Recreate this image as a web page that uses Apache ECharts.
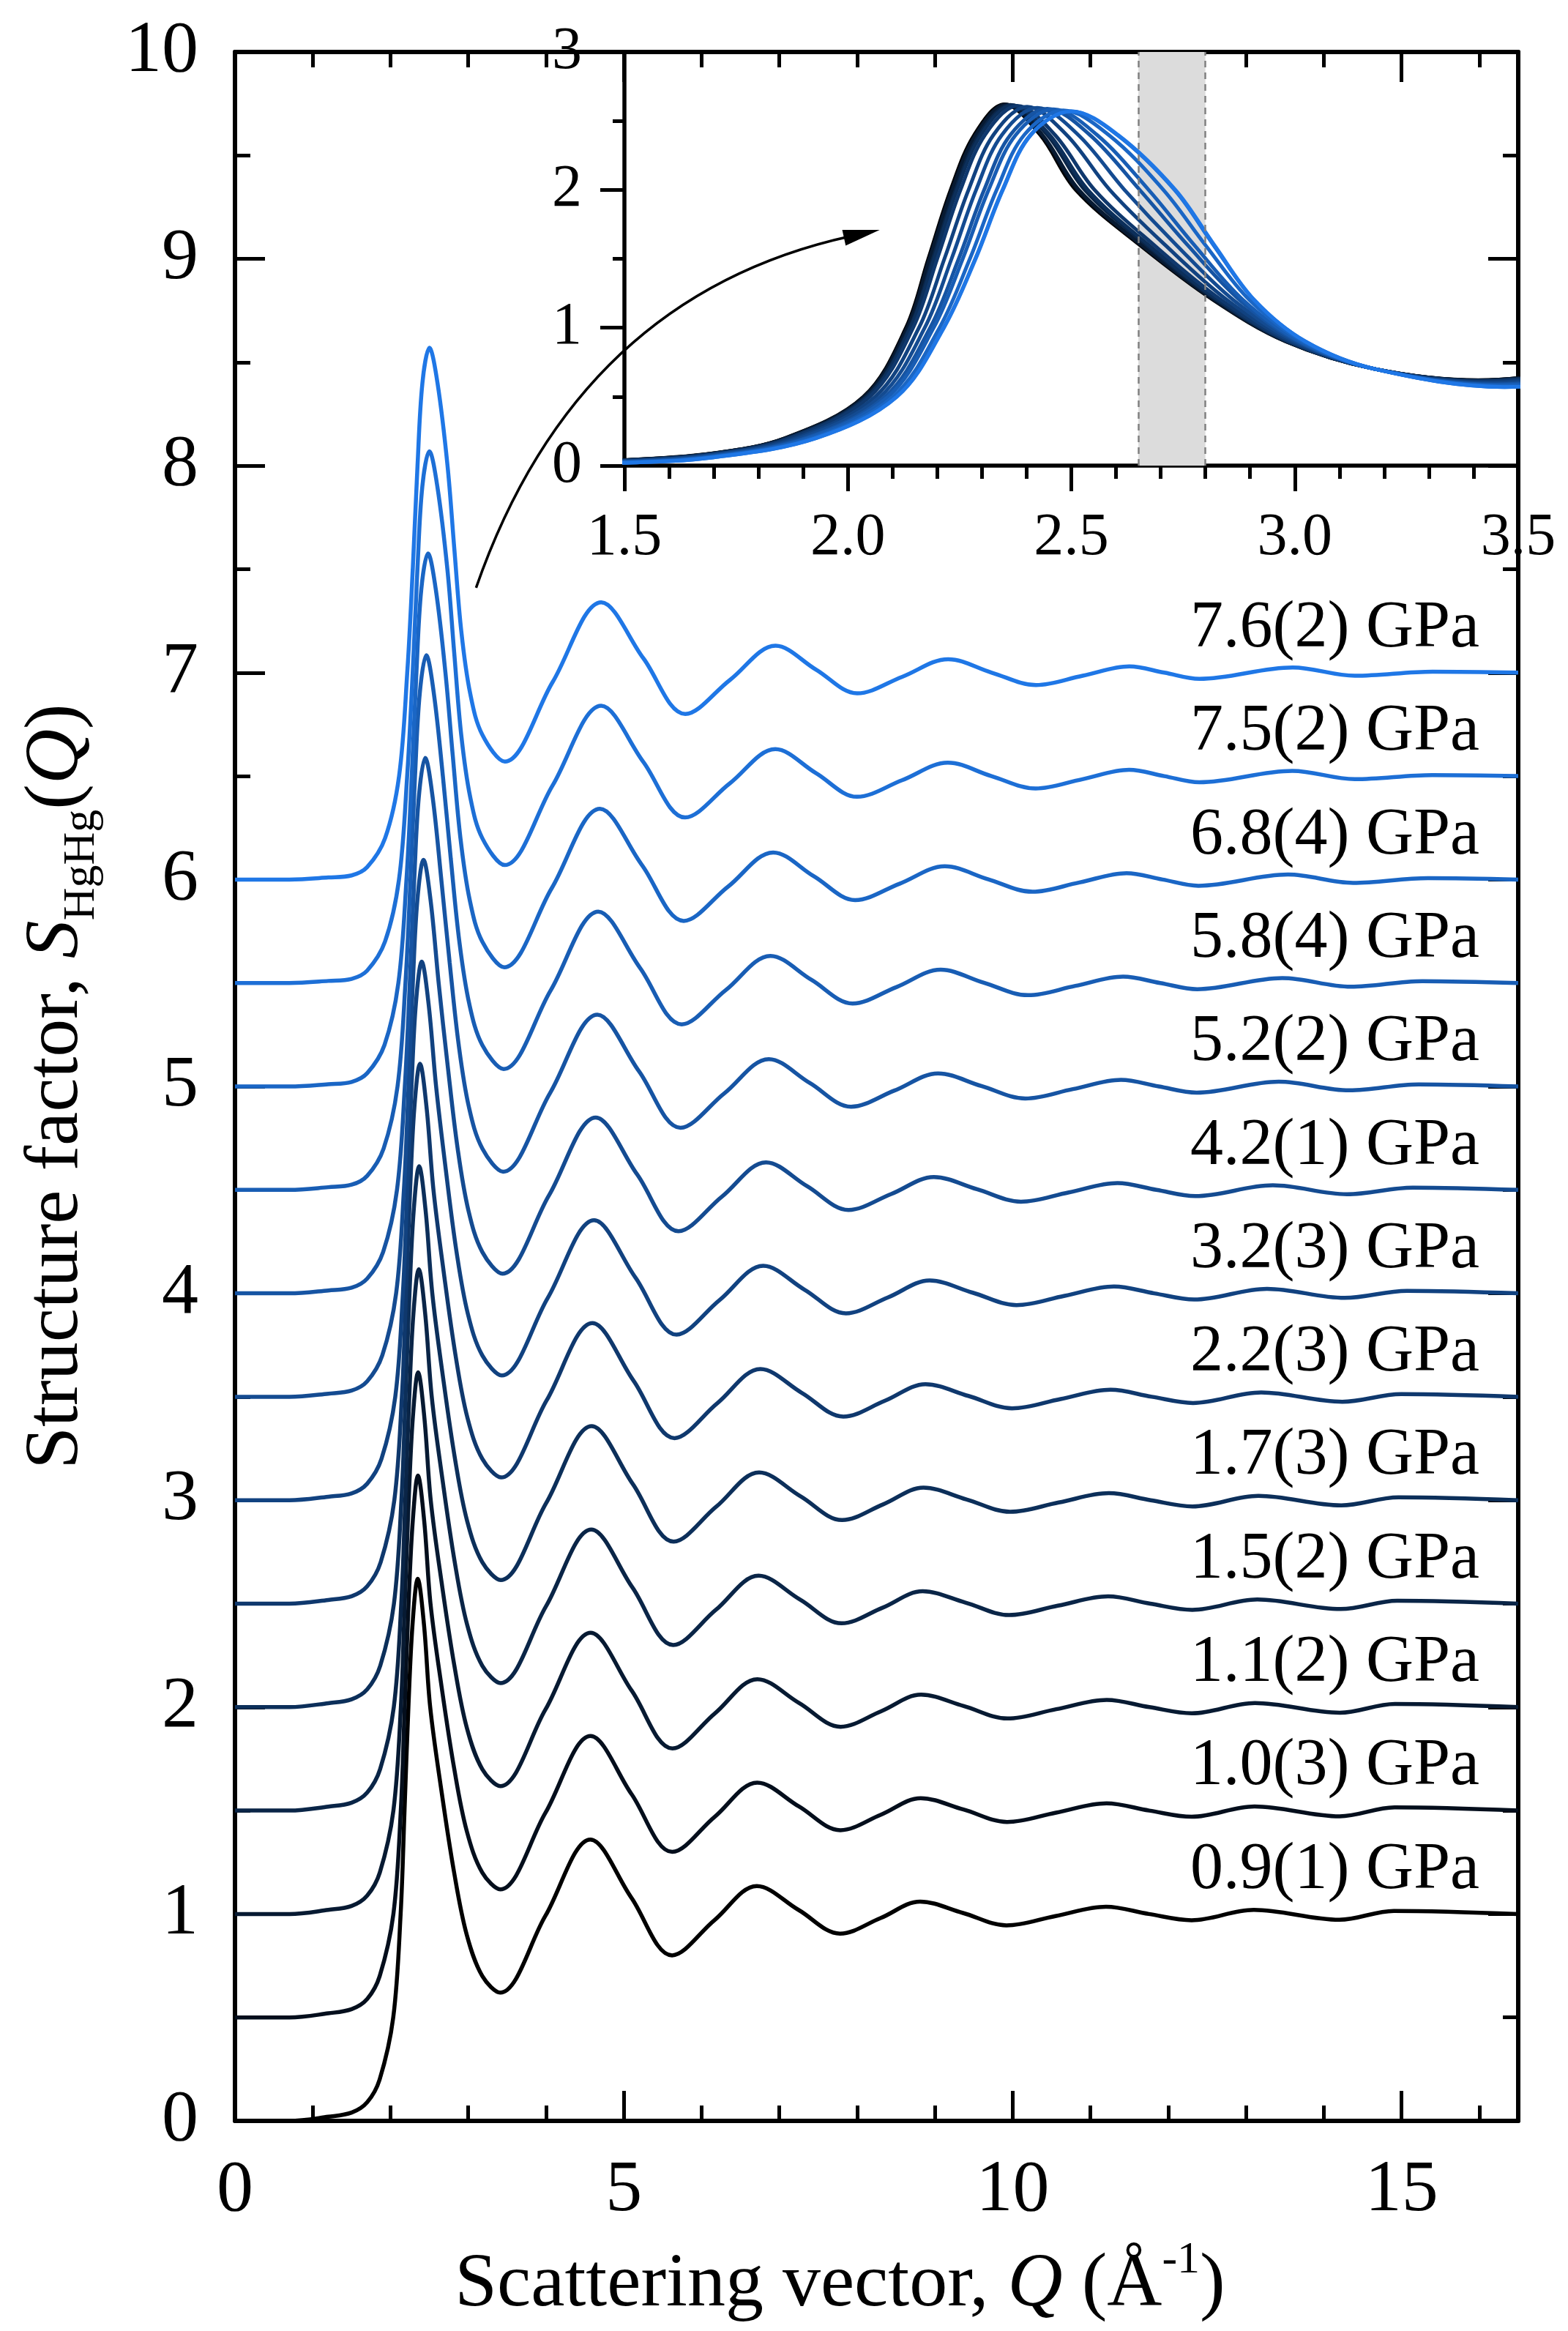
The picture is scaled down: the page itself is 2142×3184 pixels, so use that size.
<!DOCTYPE html>
<html lang="en">
<head>
<meta charset="UTF-8">
<style>
  html, body { margin: 0; height: 100%; background: #fff; }
  #chart { width: 2142px; height: 3184px; }
</style>
</head>
<body>
<div id="chart"></div>
<script src="https://cdn.jsdelivr.net/npm/echarts@6.0.0/dist/echarts.min.js"></script>
<script>
// pressures from bottom to top, each curve lifted by its offset
var pressures = ['0.9(1)', '1.0(3)', '1.1(2)', '1.5(2)', '1.7(3)', '2.2(3)', '3.2(3)', '4.2(1)', '5.2(2)', '5.8(4)', '6.8(4)', '7.5(2)', '7.6(2)'];
var offsets = [0, 0.5, 1, 1.5, 2, 2.5, 3, 3.5, 4, 4.5, 5, 5.5, 6];

// S_HgHg(Q): Q in 1/A, S without offset
var q09 = [0, 0.7, 1.2, 1.5, 1.7, 1.86, 2.035, 2.13, 2.18, 2.23, 2.283, 2.35, 2.43, 2.51, 2.653, 2.818, 2.98, 3.18, 3.41, 3.99, 4.57, 5.095, 5.62, 6.165, 6.71, 7.245, 7.78, 8.3, 8.81, 9.36, 9.92, 10.55, 11.2, 11.75, 12.3, 13.1, 14.2, 14.9, 16.5];
var s09 = [0, 0, 0.02, 0.04, 0.09, 0.2, 0.5, 1.0, 1.5, 2.0, 2.4, 2.62, 2.4, 2.0, 1.6, 1.2, 0.9, 0.7, 0.62, 0.99, 1.36, 1.08, 0.80, 0.97, 1.135, 1.02, 0.905, 0.98, 1.06, 1.005, 0.945, 0.99, 1.035, 1.0, 0.97, 1.02, 0.972, 1.015, 1.0];
var q10 = [0, 0.7, 1.2, 1.5, 1.7, 1.861, 2.037, 2.132, 2.182, 2.232, 2.286, 2.353, 2.433, 2.514, 2.656, 2.82, 2.981, 3.18, 3.411, 3.992, 4.573, 5.098, 5.623, 6.169, 6.715, 7.25, 7.784, 8.306, 8.817, 9.367, 9.928, 10.557, 11.206, 11.754, 12.302, 13.11, 14.204, 14.91, 16.5];
var s10 = [0, 0, 0.02, 0.04, 0.089, 0.2, 0.5, 1.0, 1.5, 2.0, 2.4, 2.619, 2.4, 2.0, 1.6, 1.2, 0.9, 0.7, 0.619, 0.989, 1.36, 1.08, 0.80, 0.97, 1.135, 1.02, 0.905, 0.98, 1.06, 1.005, 0.945, 0.99, 1.035, 1.0, 0.97, 1.02, 0.972, 1.015, 1.0];
var q11 = [0, 0.7, 1.2, 1.5, 1.7, 1.862, 2.037, 2.133, 2.183, 2.234, 2.287, 2.355, 2.435, 2.517, 2.658, 2.821, 2.981, 3.18, 3.412, 3.993, 4.574, 5.10, 5.625, 6.171, 6.717, 7.252, 7.787, 8.308, 8.821, 9.371, 9.931, 10.56, 11.209, 11.756, 12.303, 13.115, 14.206, 14.915, 16.5];
var s11 = [0, 0, 0.02, 0.039, 0.089, 0.2, 0.5, 1.0, 1.5, 2.0, 2.4, 2.618, 2.4, 2.0, 1.6, 1.2, 0.9, 0.7, 0.618, 0.989, 1.359, 1.08, 0.80, 0.97, 1.135, 1.02, 0.905, 0.98, 1.06, 1.005, 0.945, 0.99, 1.035, 1.0, 0.97, 1.02, 0.973, 1.015, 1.0];
var q15 = [0, 0.7, 1.2, 1.5, 1.7, 1.866, 2.042, 2.138, 2.19, 2.241, 2.294, 2.364, 2.446, 2.53, 2.668, 2.826, 2.984, 3.18, 3.415, 3.999, 4.583, 5.109, 5.635, 6.183, 6.732, 7.265, 7.80, 8.325, 8.842, 9.393, 9.954, 10.58, 11.227, 11.768, 12.309, 13.145, 14.218, 14.945, 16.5];
var s15 = [0, 0, 0.019, 0.038, 0.087, 0.2, 0.5, 1.0, 1.5, 2.0, 2.4, 2.616, 2.4, 2.0, 1.6, 1.2, 0.9, 0.7, 0.616, 0.987, 1.358, 1.079, 0.80, 0.97, 1.135, 1.02, 0.905, 0.98, 1.06, 1.005, 0.945, 0.99, 1.035, 1.0, 0.97, 1.02, 0.974, 1.014, 1.0];
var q17 = [0, 0.7, 1.2, 1.5, 1.7, 1.868, 2.044, 2.14, 2.193, 2.244, 2.298, 2.368, 2.451, 2.537, 2.673, 2.829, 2.985, 3.18, 3.417, 4.001, 4.587, 5.114, 5.64, 6.189, 6.739, 7.272, 7.806, 8.334, 8.853, 9.404, 9.966, 10.592, 11.236, 11.774, 12.312, 13.16, 14.224, 14.96, 16.5];
var s17 = [0, 0, 0.019, 0.038, 0.086, 0.2, 0.5, 1.0, 1.5, 2.0, 2.4, 2.614, 2.4, 2.0, 1.6, 1.2, 0.9, 0.7, 0.614, 0.986, 1.358, 1.079, 0.80, 0.969, 1.134, 1.019, 0.904, 0.98, 1.061, 1.004, 0.944, 0.989, 1.034, 1.0, 0.97, 1.021, 0.975, 1.014, 1.0];
var q22 = [0, 0.7, 1.2, 1.5, 1.7, 1.873, 2.049, 2.146, 2.2, 2.252, 2.307, 2.379, 2.463, 2.552, 2.685, 2.836, 2.988, 3.18, 3.421, 4.008, 4.597, 5.124, 5.652, 6.203, 6.756, 7.288, 7.822, 8.353, 8.878, 9.43, 9.992, 10.617, 11.257, 11.788, 12.319, 13.195, 14.238, 14.995, 16.5];
var s22 = [0, 0, 0.018, 0.036, 0.084, 0.2, 0.5, 1.0, 1.5, 2.0, 2.4, 2.61, 2.4, 2.0, 1.6, 1.2, 0.9, 0.7, 0.61, 0.983, 1.356, 1.078, 0.80, 0.969, 1.134, 1.019, 0.904, 0.98, 1.061, 1.004, 0.944, 0.989, 1.034, 1.0, 0.97, 1.021, 0.976, 1.013, 1.0];
var q32 = [0, 0.7, 1.2, 1.5, 1.7, 1.884, 2.061, 2.159, 2.216, 2.27, 2.326, 2.401, 2.489, 2.586, 2.71, 2.849, 2.995, 3.18, 3.43, 4.022, 4.618, 5.148, 5.678, 6.233, 6.792, 7.322, 7.855, 8.395, 8.932, 9.486, 10.049, 10.669, 11.302, 11.818, 12.334, 13.27, 14.268, 15.07, 16.5];
var s32 = [0, 0, 0.017, 0.033, 0.08, 0.2, 0.5, 1.0, 1.5, 2.0, 2.4, 2.603, 2.4, 2.0, 1.6, 1.2, 0.9, 0.7, 0.603, 0.978, 1.353, 1.077, 0.80, 0.968, 1.133, 1.018, 0.903, 0.98, 1.062, 1.003, 0.943, 0.988, 1.033, 1.0, 0.97, 1.022, 0.978, 1.012, 1.0];
var q42 = [0, 0.7, 1.2, 1.5, 1.7, 1.894, 2.072, 2.172, 2.232, 2.287, 2.345, 2.424, 2.515, 2.619, 2.735, 2.863, 3.002, 3.18, 3.439, 4.037, 4.639, 5.171, 5.703, 6.263, 6.828, 7.355, 7.888, 8.437, 8.986, 9.541, 10.106, 10.722, 11.347, 11.848, 12.349, 13.345, 14.298, 15.145, 16.5];
var s42 = [0, 0, 0.015, 0.03, 0.075, 0.2, 0.5, 1.0, 1.5, 2.0, 2.4, 2.595, 2.4, 2.0, 1.6, 1.2, 0.9, 0.7, 0.595, 0.973, 1.35, 1.075, 0.80, 0.968, 1.133, 1.018, 0.903, 0.98, 1.062, 1.003, 0.943, 0.988, 1.033, 1.0, 0.97, 1.022, 0.979, 1.011, 1.0];
var q52 = [0, 0.7, 1.2, 1.5, 1.7, 1.905, 2.083, 2.184, 2.248, 2.305, 2.364, 2.446, 2.541, 2.653, 2.76, 2.877, 3.008, 3.18, 3.448, 4.051, 4.66, 5.194, 5.729, 6.293, 6.864, 7.389, 7.921, 8.479, 9.04, 9.597, 10.163, 10.774, 11.392, 11.878, 12.364, 13.42, 14.328, 15.22, 16.5];
var s52 = [0, 0, 0.014, 0.027, 0.071, 0.2, 0.5, 1.0, 1.5, 2.0, 2.4, 2.588, 2.4, 2.0, 1.6, 1.2, 0.9, 0.7, 0.588, 0.968, 1.347, 1.074, 0.80, 0.967, 1.132, 1.017, 0.902, 0.98, 1.063, 1.002, 0.942, 0.987, 1.032, 1.0, 0.97, 1.023, 0.981, 1.01, 1.0];
var q58 = [0, 0.7, 1.2, 1.5, 1.7, 1.911, 2.09, 2.192, 2.257, 2.315, 2.376, 2.46, 2.557, 2.673, 2.775, 2.885, 3.012, 3.18, 3.454, 4.059, 4.672, 5.208, 5.744, 6.311, 6.885, 7.409, 7.941, 8.504, 9.073, 9.63, 10.197, 10.806, 11.419, 11.896, 12.373, 13.465, 14.346, 15.265, 16.5];
var s58 = [0, 0, 0.013, 0.025, 0.068, 0.2, 0.5, 1.0, 1.5, 2.0, 2.4, 2.584, 2.4, 2.0, 1.6, 1.2, 0.9, 0.7, 0.584, 0.964, 1.345, 1.073, 0.80, 0.966, 1.131, 1.016, 0.901, 0.98, 1.064, 1.001, 0.941, 0.986, 1.031, 1.0, 0.97, 1.024, 0.982, 1.009, 1.0];
var q68 = [0, 0.7, 1.2, 1.5, 1.7, 1.922, 2.101, 2.205, 2.273, 2.333, 2.395, 2.482, 2.583, 2.706, 2.8, 2.899, 3.019, 3.18, 3.463, 4.074, 4.693, 5.231, 5.77, 6.341, 6.921, 7.443, 7.974, 8.546, 9.127, 9.686, 10.254, 10.858, 11.464, 11.926, 12.388, 13.54, 14.376, 15.34, 16.5];
var s68 = [0, 0, 0.011, 0.022, 0.064, 0.2, 0.5, 1.0, 1.5, 2.0, 2.4, 2.576, 2.4, 2.0, 1.6, 1.2, 0.9, 0.7, 0.576, 0.959, 1.342, 1.071, 0.80, 0.966, 1.131, 1.016, 0.901, 0.98, 1.064, 1.001, 0.941, 0.986, 1.031, 1.0, 0.97, 1.024, 0.984, 1.007, 1.0];
var q75 = [0, 0.7, 1.2, 1.5, 1.7, 1.929, 2.109, 2.214, 2.285, 2.346, 2.409, 2.499, 2.602, 2.731, 2.818, 2.909, 3.024, 3.18, 3.469, 4.084, 4.709, 5.248, 5.788, 6.363, 6.948, 7.468, 7.998, 8.577, 9.166, 9.726, 10.296, 10.897, 11.497, 11.948, 12.399, 13.595, 14.398, 15.395, 16.5];
var s75 = [0, 0, 0.01, 0.02, 0.06, 0.2, 0.5, 1.0, 1.5, 2.0, 2.4, 2.57, 2.4, 2.0, 1.6, 1.2, 0.9, 0.7, 0.57, 0.955, 1.34, 1.07, 0.80, 0.965, 1.13, 1.015, 0.90, 0.98, 1.065, 1.0, 0.94, 0.985, 1.03, 1.0, 0.97, 1.025, 0.985, 1.005, 1.0];
var q76 = [0, 0.7, 1.2, 1.5, 1.7, 1.93, 2.11, 2.215, 2.286, 2.347, 2.41, 2.5, 2.604, 2.733, 2.82, 2.91, 3.024, 3.18, 3.47, 4.085, 4.71, 5.25, 5.79, 6.365, 6.95, 7.47, 8.0, 8.58, 9.17, 9.73, 10.3, 10.9, 11.5, 11.95, 12.4, 13.6, 14.4, 15.4, 16.5];
var s76 = [0, 0, 0.01, 0.02, 0.06, 0.2, 0.5, 1.0, 1.5, 2.0, 2.4, 2.57, 2.4, 2.0, 1.6, 1.2, 0.9, 0.7, 0.57, 0.955, 1.34, 1.07, 0.80, 0.965, 1.13, 1.015, 0.90, 0.98, 1.065, 1.0, 0.94, 0.985, 1.03, 1.0, 0.97, 1.025, 0.985, 1.005, 1.0];

var qArrays = [q09, q10, q11, q15, q17, q22, q32, q42, q52, q58, q68, q75, q76];
var sArrays = [s09, s10, s11, s15, s17, s22, s32, s42, s52, s58, s68, s75, s76];

var colors = ['#000000', '#040e1c', '#071a32', '#0a2547', '#0c2f5a', '#0f386d', '#114280',
              '#144b91', '#1654a3', '#185db4', '#1a66c5', '#1d6fd6', '#1f77e6'];

// shaded Q window in the inset, arrow from main plot to inset, label placement
var bandQ = [2.65, 2.80];
var arrowFrom = [3.10, 7.41];
var arrowTo = [8.29, 9.14];
var labelQ = 16.0;
var labelLift = 1.21;

var FONT = 'Liberation Serif';

var chart = echarts.init(document.getElementById('chart'));

function mainAxisX(pos, showLabel, withName) {
    var ax = {
        gridIndex: 0, type: 'value', position: pos, min: 0, max: 16.5, interval: 5,
        axisLine: { onZero: false, lineStyle: { color: '#000', width: 6 } },
        axisTick: { inside: true, length: 41, lineStyle: { color: '#000', width: 5 } },
        minorTick: { show: true, splitNumber: 5, length: 21, lineStyle: { color: '#000', width: 5 } },
        splitLine: { show: false },
        axisLabel: { show: showLabel, fontFamily: FONT, fontSize: 100, color: '#000', margin: 46, showMaxLabel: false }
    };
    if (withName) {
        ax.name = '{n|Scattering vector, }{i|Q}{n| (Å}{sup|-1}{n|)}';
        ax.nameLocation = 'middle';
        ax.nameGap = 160;
        ax.nameTextStyle = {
            padding: [0, 100, 0, 0],
            rich: {
                n: { fontFamily: FONT, fontSize: 104, color: '#000', lineHeight: 130 },
                i: { fontFamily: FONT, fontSize: 104, color: '#000', lineHeight: 130, fontStyle: 'italic' },
                sup: { fontFamily: FONT, fontSize: 62, color: '#000', lineHeight: 70, verticalAlign: 'top' }
            }
        };
    }
    return ax;
}

function mainAxisY(pos, showLabel, withName) {
    var ax = {
        gridIndex: 0, type: 'value', position: pos, min: 0, max: 10, interval: 1,
        axisLine: { onZero: false, lineStyle: { color: '#000', width: 6 } },
        axisTick: { inside: true, length: 41, lineStyle: { color: '#000', width: 5 } },
        minorTick: { show: true, splitNumber: 2, length: 21, lineStyle: { color: '#000', width: 5 } },
        splitLine: { show: false },
        axisLabel: { show: showLabel, fontFamily: FONT, fontSize: 100, color: '#000', margin: 50 }
    };
    if (withName) {
        ax.name = '{n|Structure factor, }{i|S}{sub|HgHg}{n|(}{i|Q}{n|)}';
        ax.nameLocation = 'middle';
        ax.nameRotate = 90;
        ax.nameGap = 178;
        ax.nameTextStyle = {
            rich: {
                n: { fontFamily: FONT, fontSize: 104, color: '#000', lineHeight: 130 },
                i: { fontFamily: FONT, fontSize: 104, color: '#000', lineHeight: 130, fontStyle: 'italic' },
                sub: { fontFamily: FONT, fontSize: 62, color: '#000', lineHeight: 70, verticalAlign: 'bottom' }
            }
        };
    }
    return ax;
}

var series = [];

// grey band and its dashed edges in the inset
series.push({
    type: 'line', xAxisIndex: 2, yAxisIndex: 2, data: [[bandQ[0], 0]], showSymbol: false, z: 1, silent: true,
    lineStyle: { width: 0 },
    markArea: { silent: true, itemStyle: { color: '#dcdcdc' }, data: [[{ xAxis: bandQ[0] }, { xAxis: bandQ[1] }]] },
    markLine: {
        silent: true, symbol: 'none', label: { show: false },
        lineStyle: { color: '#808080', type: [9, 7], width: 2.5 },
        data: [{ xAxis: bandQ[0] }, { xAxis: bandQ[1] }]
    }
});

for (var i = 0; i < pressures.length; i++) {
    var mainData = [];
    var insetData = [];
    for (var j = 0; j < qArrays[i].length; j++) {
        mainData.push([qArrays[i][j], sArrays[i][j] + offsets[i]]);
        insetData.push([qArrays[i][j], sArrays[i][j]]);
    }
    series.push({
        type: 'line', xAxisIndex: 0, yAxisIndex: 0, data: mainData, showSymbol: false,
        smooth: 0.35, z: 3,
        lineStyle: { color: colors[i], width: 5.5 }
    });
    series.push({
        type: 'line', xAxisIndex: 2, yAxisIndex: 2, data: insetData, showSymbol: false,
        smooth: 0.35, z: 3,
        lineStyle: { color: colors[i], width: 5 }
    });
}

// pressure labels
var labelData = [];
for (var k = 0; k < pressures.length; k++) {
    labelData.push([labelQ, offsets[k] + labelLift]);
}
series.push({
    type: 'scatter', xAxisIndex: 0, yAxisIndex: 0, data: labelData, symbolSize: 0, silent: true, z: 5,
    itemStyle: { color: '#000' },
    label: {
        show: true, position: 'left', distance: 0, opacity: 1,
        fontFamily: FONT, fontSize: 90, color: '#000',
        formatter: function (p) { return pressures[p.dataIndex] + ' GPa'; }
    }
});

// curved arrow pointing into the inset
series.push({
    type: 'custom', coordinateSystem: 'cartesian2d', xAxisIndex: 0, yAxisIndex: 0, z: 20, clip: false, silent: true,
    data: [[arrowFrom[0], arrowFrom[1], arrowTo[0], arrowTo[1]]],
    renderItem: function (params, api) {
        var p0 = api.coord([api.value(0), api.value(1)]);
        var p1 = api.coord([api.value(2), api.value(3)]);
        var dx = p1[0] - p0[0], dy = p1[1] - p0[1];
        var cp = [(p0[0] + p1[0]) / 2 + dy * 0.28, (p0[1] + p1[1]) / 2 - dx * 0.28];
        var tx = p1[0] - cp[0], ty = p1[1] - cp[1];
        var len = Math.sqrt(tx * tx + ty * ty);
        tx /= len; ty /= len;
        var headLen = 50, half = 11;
        var base = [p1[0] - tx * headLen, p1[1] - ty * headLen];
        return {
            type: 'group',
            children: [{
                type: 'bezierCurve',
                shape: { x1: p0[0], y1: p0[1], x2: base[0] + tx * 10, y2: base[1] + ty * 10, cpx1: cp[0], cpy1: cp[1] },
                style: { stroke: '#000', lineWidth: 3.5, fill: 'none' }
            }, {
                type: 'polygon',
                shape: { points: [p1, [base[0] - ty * half, base[1] + tx * half], [base[0] + ty * half, base[1] - tx * half]] },
                style: { fill: '#000' }
            }]
        };
    }
});

chart.setOption({
    animation: false,
    backgroundColor: '#fff',
    textStyle: { fontFamily: FONT },
    grid: [
        { left: 321, top: 71, right: 68, bottom: 287 },
        { left: 853, top: 71, right: 68, bottom: 2548 }
    ],
    xAxis: [
        mainAxisX('bottom', true, true),
        mainAxisX('top', false, false),
        {
            gridIndex: 1, type: 'value', position: 'bottom', min: 1.5, max: 3.5, interval: 0.5,
            axisLine: { onZero: false, lineStyle: { color: '#000', width: 5.5 } },
            axisTick: { inside: false, length: 35, lineStyle: { color: '#000', width: 5 } },
            minorTick: { show: true, splitNumber: 5, length: 18, lineStyle: { color: '#000', width: 5 } },
            splitLine: { show: false },
            axisLabel: {
                fontFamily: FONT, fontSize: 82, color: '#000', margin: 58,
                formatter: function (v) { return v.toFixed(1); }
            }
        }
    ],
    yAxis: [
        mainAxisY('left', true, true),
        mainAxisY('right', false, false),
        {
            gridIndex: 1, type: 'value', position: 'left', min: 0, max: 3, interval: 1,
            axisLine: { onZero: false, lineStyle: { color: '#000', width: 5.5 } },
            axisTick: { inside: false, length: 33, lineStyle: { color: '#000', width: 5 } },
            minorTick: { show: true, splitNumber: 2, length: 16, lineStyle: { color: '#000', width: 5 } },
            splitLine: { show: false },
            axisLabel: { fontFamily: FONT, fontSize: 82, color: '#000', margin: 58 }
        }
    ],
    series: series
});
</script>
</body>
</html>
